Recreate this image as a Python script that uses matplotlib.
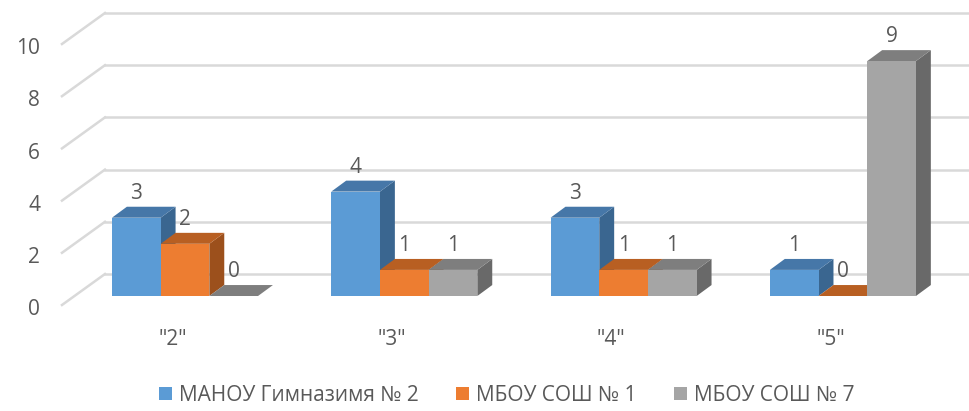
import matplotlib
matplotlib.use("Agg")
import matplotlib.pyplot as plt
from matplotlib.patches import Polygon, Patch

plt.rcParams['font.family'] = ['Open Sans', 'DejaVu Sans']

categories = ['"2"', '"3"', '"4"', '"5"']
series_names = ['МАНОУ Гимназимя № 2', 'МБОУ СОШ № 1', 'МБОУ СОШ № 7']
values = [
    [3, 4, 3, 1],
    [2, 1, 1, 0],
    [0, 1, 1, 9],
]
y_ticks = [0, 2, 4, 6, 8, 10]

front_colors = ['#5B9BD5', '#ED7D31', '#A5A5A5']
top_colors = ['#4677A8', '#B85F22', '#7E7E7E']
side_colors = ['#3A6690', '#9C501C', '#696969']
text_color = '#595959'
grid_color = '#D9D9D9'

# pseudo 3d geometry, in data units (x = category, y = value)
bar_w = 0.222
depth_dx, depth_dy = 0.068, 0.42      # thickness of a bar
back_dx, back_dy = 0.139, 0.843       # bar front -> back wall
front_dx, front_dy = -0.057, -0.345   # bar front -> front of floor
wall_x = -0.365
fs = 15

fig = plt.figure(figsize=(9.69, 4.11), dpi=100)
ax = fig.add_axes([0, 0, 1, 1])
ax.set_xlim(-0.8436, 3.575)
ax.set_ylim(-4.406, 11.341)
ax.axis('off')

# walls: back lines and diagonal lines on the left side wall
for t in y_ticks:
    ax.plot([wall_x, 3.575], [t + back_dy, t + back_dy], color=grid_color, lw=1.8, zorder=1)
    x0 = wall_x - (back_dx - front_dx)
    ax.plot([x0, wall_x], [t + front_dy, t + back_dy], color=grid_color, lw=1.8, zorder=1)
    ax.text(x0 - 0.1, t + front_dy - 0.18, str(t), ha='right', va='center',
            fontsize=fs, color=text_color)

# bars drawn left to right so the next bar hides the side of the previous one
z = 2
for i in range(len(categories)):
    left0 = i - 1.5 * bar_w
    for s in range(len(series_names)):
        v = values[s][i]
        x0 = left0 + s * bar_w
        x1 = x0 + bar_w
        front = [(x0, 0), (x1, 0), (x1, v), (x0, v)]
        top = [(x0, v), (x1, v), (x1 + depth_dx, v + depth_dy), (x0 + depth_dx, v + depth_dy)]
        side = [(x1, 0), (x1 + depth_dx, depth_dy), (x1 + depth_dx, v + depth_dy), (x1, v)]
        ax.add_patch(Polygon(side, closed=True, facecolor=side_colors[s], edgecolor='none', zorder=z))
        ax.add_patch(Polygon(top, closed=True, facecolor=top_colors[s], edgecolor='none', zorder=z))
        ax.add_patch(Polygon(front, closed=True, facecolor=front_colors[s], edgecolor='none', zorder=z))
        z += 1
        ax.text((x0 + x1) / 2, v + 0.93, str(v), ha='center', va='center',
                fontsize=fs, color=text_color, zorder=50)
    ax.text(i + front_dx, -1.65, categories[i], ha='center', va='center',
            fontsize=fs, color=text_color)

handles = [Patch(facecolor=c, edgecolor='none') for c in front_colors]
fig.legend(handles, series_names, loc='center', bbox_to_anchor=(0.523, 0.038), ncol=3,
           frameon=False, fontsize=fs, labelcolor=text_color,
           handlelength=0.62, handleheight=0.62, handletextpad=0.34, columnspacing=1.8)

fig.savefig('out.png', dpi=100)
